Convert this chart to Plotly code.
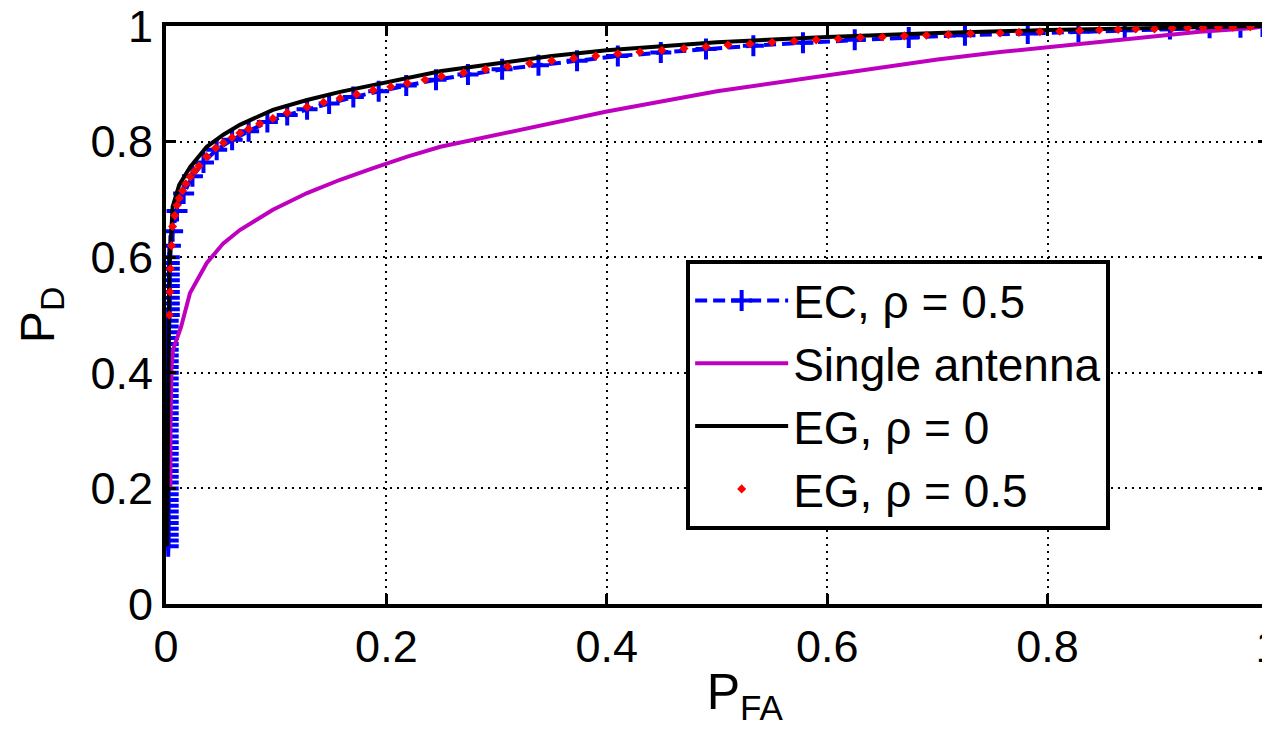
import plotly.graph_objects as go

# ---- data (P_FA, P_D) ----
# EC, rho = 0.5 : stacked markers along the axis, then the curve
ec_x = [0.002, 0.002, 0.002, 0.002, 0.002, 0.002, 0.002, 0.002, 0.002, 0.002,
        0.002, 0.002, 0.002, 0.002, 0.002, 0.002, 0.002, 0.002, 0.002, 0.002,
        0.002, 0.002, 0.002, 0.002, 0.002, 0.002, 0.002, 0.002, 0.002, 0.002,
        0.002, 0.002, 0.002, 0.002, 0.002, 0.002, 0.002, 0.002, 0.002, 0.002,
        0.003, 0.003, 0.003, 0.003, 0.003, 0.003, 0.003, 0.003, 0.003, 0.003, 0.003,
        0.004, 0.006, 0.010, 0.016,
        0.024, 0.034, 0.046, 0.060, 0.075, 0.092, 0.110, 0.128, 0.148, 0.170, 0.193, 0.218, 0.245,
        0.274, 0.305, 0.338, 0.373, 0.410, 0.449, 0.490, 0.533, 0.578, 0.625, 0.674, 0.725, 0.782,
        0.828, 0.870, 0.911, 0.947, 0.975, 0.995]
ec_y = [0.10, 0.11, 0.12, 0.13, 0.14, 0.15, 0.16, 0.17, 0.18, 0.19,
        0.20, 0.21, 0.22, 0.23, 0.24, 0.25, 0.26, 0.27, 0.28, 0.29,
        0.30, 0.31, 0.32, 0.33, 0.34, 0.35, 0.36, 0.37, 0.38, 0.39,
        0.40, 0.41, 0.42, 0.43, 0.44, 0.45, 0.46, 0.47, 0.48, 0.49,
        0.50, 0.51, 0.52, 0.53, 0.54, 0.55, 0.56, 0.57, 0.58, 0.59, 0.60,
        0.620, 0.645, 0.680, 0.710,
        0.740, 0.764, 0.786, 0.803, 0.818, 0.834, 0.846, 0.856, 0.866, 0.877, 0.887, 0.897, 0.907,
        0.916, 0.925, 0.932, 0.940, 0.948, 0.954, 0.960, 0.966, 0.971, 0.976, 0.980, 0.984, 0.987,
        0.990, 0.993, 0.995, 0.997, 0.998, 0.999]

single_x = [0.004, 0.004, 0.005, 0.0064, 0.0136, 0.0218, 0.037, 0.052, 0.067, 0.097, 0.128,
            0.158, 0.188, 0.219, 0.249, 0.30, 0.40, 0.50, 0.60, 0.70, 0.757, 0.80, 0.877,
            0.938, 0.984, 1.0]
single_y = [0.20, 0.30, 0.41, 0.44, 0.479, 0.538, 0.590, 0.624, 0.647, 0.682, 0.711,
            0.734, 0.754, 0.774, 0.791, 0.812, 0.852, 0.887, 0.915, 0.942, 0.955, 0.963, 0.979,
            0.990, 0.996, 1.0]

eg0_x = [0.001, 0.002, 0.003, 0.006, 0.012, 0.022, 0.037, 0.052, 0.067, 0.097, 0.128, 0.158,
         0.188, 0.219, 0.25, 0.30, 0.35, 0.40, 0.50, 0.60, 0.70, 0.80, 0.90, 1.0]
eg0_y = [0.10, 0.45, 0.58, 0.687, 0.725, 0.756, 0.791, 0.812, 0.829, 0.855, 0.872, 0.886,
         0.898, 0.911, 0.922, 0.935, 0.948, 0.958, 0.972, 0.981, 0.988, 0.993, 0.997, 1.0]

eg5_x = [0.003, 0.0035, 0.004, 0.005, 0.006, 0.008, 0.010, 0.012, 0.015, 0.018, 0.022, 0.026,
         0.030, 0.037, 0.045, 0.052, 0.060, 0.067, 0.075, 0.085, 0.097, 0.110, 0.128, 0.143,
         0.158, 0.173, 0.188, 0.204, 0.219, 0.235, 0.250, 0.270, 0.290, 0.310, 0.330, 0.350,
         0.370, 0.390, 0.410, 0.430, 0.450, 0.470, 0.490, 0.510, 0.530, 0.550, 0.570, 0.590,
         0.610, 0.630, 0.650, 0.670, 0.690, 0.710, 0.730, 0.757, 0.774, 0.793, 0.811, 0.829,
         0.847, 0.864, 0.880, 0.897, 0.913, 0.927, 0.941, 0.955, 0.968, 0.984, 1.0]
eg5_y = [0.50, 0.54, 0.58, 0.62, 0.653, 0.672, 0.690, 0.702, 0.715, 0.727, 0.739, 0.749,
         0.758, 0.774, 0.789, 0.798, 0.807, 0.815, 0.822, 0.831, 0.840, 0.850, 0.860, 0.868,
         0.875, 0.882, 0.889, 0.895, 0.901, 0.907, 0.913, 0.919, 0.925, 0.930, 0.935, 0.940,
         0.944, 0.948, 0.952, 0.955, 0.958, 0.961, 0.964, 0.967, 0.969, 0.972, 0.974, 0.976,
         0.978, 0.980, 0.981, 0.983, 0.984, 0.985, 0.987, 0.988, 0.989, 0.990, 0.991, 0.992,
         0.993, 0.994, 0.995, 0.995, 0.996, 0.997, 0.997, 0.998, 0.998, 0.999, 1.0]

tick_vals = [0, 0.2, 0.4, 0.6, 0.8, 1]
tick_text = ["0", "0.2", "0.4", "0.6", "0.8", "1"]

FONT = "Liberation Sans, Arial, sans-serif"

fig = go.Figure()
fig.add_trace(go.Scatter(
    x=ec_x, y=ec_y, mode="lines+markers", name="EC, \u03c1 = 0.5",
    line=dict(color="#0000ff", width=4, dash="12px,6px"),
    marker=dict(symbol="cross-thin", size=15, line=dict(color="#0000ff", width=4)),
))
fig.add_trace(go.Scatter(
    x=single_x, y=single_y, mode="lines", name="Single antenna",
    line=dict(color="#bf00bf", width=4),
))
fig.add_trace(go.Scatter(
    x=eg0_x, y=eg0_y, mode="lines", name="EG, \u03c1 = 0",
    line=dict(color="#000000", width=4),
))
fig.add_trace(go.Scatter(
    x=eg5_x, y=eg5_y, mode="markers", name="EG, \u03c1 = 0.5",
    marker=dict(symbol="diamond", size=7, color="#ff0000"),
))

axis_common = dict(
    range=[0, 1], tickvals=tick_vals, ticktext=tick_text,
    showline=True, linewidth=4, linecolor="black", mirror="ticks",
    ticks="inside", ticklen=10, tickwidth=3, tickcolor="black",
    showgrid=True, gridcolor="black", gridwidth=1.5, griddash="2px,5px",
    zeroline=False, automargin=False, ticklabeloverflow="allow",
    tickfont=dict(family=FONT, size=45, color="black"),
)

# the page body has an 8px margin, so the figure is 8px smaller than the window
fig.update_layout(
    width=1262, height=723,
    margin=dict(l=158, r=2, t=18, b=127),
    paper_bgcolor="white", plot_bgcolor="white",
    font=dict(family=FONT, size=44, color="black"),
    xaxis=dict(**axis_common,
               title=dict(text="&nbsp;&nbsp;&nbsp;&nbsp;P<sub>FA</sub>",
                          font=dict(family=FONT, size=50), standoff=4)),
    yaxis=dict(**axis_common,
               title=dict(text="P<sub>D</sub>", font=dict(family=FONT, size=48), standoff=22)),
    legend=dict(x=0.472, y=0.595, xanchor="left", yanchor="top",
                bgcolor="white", bordercolor="black", borderwidth=4,
                font=dict(family=FONT, size=46, color="black"),
                itemwidth=93, tracegroupgap=0),
    showlegend=True,
)

fig.write_html("out.html")
